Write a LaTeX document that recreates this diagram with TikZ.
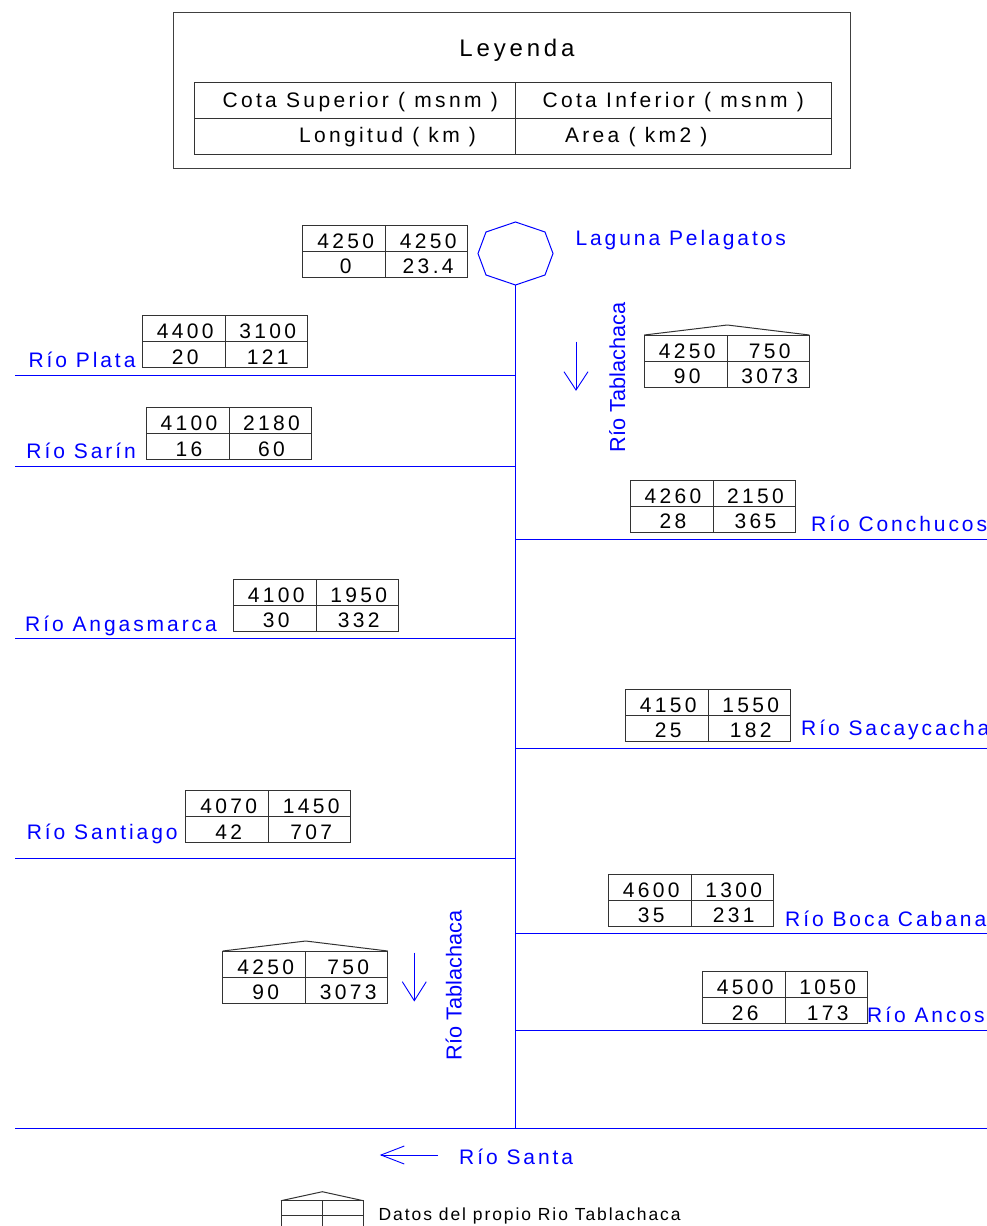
\documentclass[tikz,border=0pt]{standalone}
\usepackage{fontspec}
\setmainfont{Liberation Sans}
\newfontfamily\lsfam[LetterSpace=14]{Liberation Sans}
\newfontfamily\numfam[LetterSpace=16]{Liberation Sans}
\newfontfamily\legfam[LetterSpace=16]{Liberation Sans}
\newfontfamily\dsfam[LetterSpace=11]{Liberation Sans}
\newfontfamily\plainfam{Liberation Sans}
\newcommand\mfont{\lsfam\fontsize{21}{24}\selectfont}
\tikzset{
  lbl/.style={font=\mfont, text=blue, anchor=base west, inner sep=0pt, outer sep=0pt},
  ltxt/.style={font=\legfam\fontsize{21}{24}\selectfont, text=black, anchor=base west, inner sep=0pt, outer sep=0pt},
  num/.style={font=\numfam\fontsize{21}{24}\selectfont, text=black, anchor=base, inner sep=0pt, outer sep=0pt},
  vlbl/.style={font=\plainfam\fontsize{21.7}{24}\selectfont, text=blue, rotate=90, anchor=base west, inner sep=0pt, outer sep=0pt},
  dboxst/.style={draw=black!80, line width=1pt, minimum width=165pt, minimum height=52pt, inner sep=0pt, outer sep=0pt},
  cell/.style={draw=black!80, line width=1pt},
  riv/.style={draw=blue, line width=1pt},
  flow/.style={draw=blue, line width=0.9pt},
}
\newcommand\dbox[7]{%
  \node[dboxst, anchor=north west] (#1) at (#2,-#3) {};
  \draw[cell] ([yshift=-26pt]#1.north west) -- ([yshift=-26pt]#1.north east);
  \draw[cell] ([xshift=83pt]#1.north west) -- ([xshift=83pt]#1.south west);
  \node[num] (#1a) at ([xshift=43pt,yshift=-23pt]#1.north west) {#4};
  \node[num] (#1b) at ([xshift=125.5pt,yshift=-23pt]#1.north west) {#5};
  \node[num] (#1c) at ([xshift=43pt,yshift=-48.5pt]#1.north west) {#6};
  \node[num] (#1d) at ([xshift=125.5pt,yshift=-48.5pt]#1.north west) {#7};
}
\newcommand\roofon[1]{%
  \draw[cell] (#1.north west) -- ([xshift=83pt,yshift=10pt]#1.north west) -- (#1.north east);
}
\begin{document}
\begin{tikzpicture}[x=1pt,y=1pt]
\useasboundingbox (0,0) rectangle (987,-1226);

% ---------- Legend ----------
\node[draw=black!75, line width=1pt, minimum width=677pt, minimum height=156pt, inner sep=0pt, outer sep=0pt, anchor=north west] (legbox) at (173,-12) {};
\node[font=\legfam\fontsize{24}{28}\selectfont, anchor=base, inner sep=0pt] (legtitle) at (517,-56) {Leyenda};
\node[draw=black!80, line width=1pt, minimum width=637pt, minimum height=72pt, inner sep=0pt, outer sep=0pt, anchor=north west] (legtab) at (194,-82) {};
\draw[cell] (194,-118) -- (831,-118);
\draw[cell] (515,-82) -- (515,-154);
\node[ltxt] (legA) at (222.5,-107.5) {Cota Superior ( msnm )};
\node[ltxt] (legB) at (542.5,-107.5) {Cota Inferior ( msnm )};
\node[ltxt] (legC) at (299,-142) {Longitud ( km )};
\node[ltxt] (legD) at (565,-142) {Area ( km2 )};

% ---------- Laguna ----------
\draw[riv] (515.5,-222) -- (545,-232) -- (553,-253.5) -- (545,-275) -- (515.5,-285) -- (486,-275) -- (478,-253.5) -- (486,-232) -- cycle;
\coordinate (lagbot) at (515.5,-285);
\node[lbl] (laglbl) at (575.5,-245.5) {Laguna Pelagatos};
\dbox{bLag}{302.7}{225}{4250}{4250}{0}{23.4}

% ---------- junctions ----------
\coordinate (jPlata) at (515.5,-375.3);
\coordinate (jSarin) at (515.5,-466);
\coordinate (jConch) at (515.5,-539.3);
\coordinate (jAng) at (515.5,-638.3);
\coordinate (jSac) at (515.5,-748.3);
\coordinate (jSant) at (515.5,-858.7);
\coordinate (jBoca) at (515.5,-933.3);
\coordinate (jAncos) at (515.5,-1030);
\coordinate (jSanta) at (515.5,-1128.3);

\coordinate (ePlata) at (15,-375.3);
\coordinate (eSarin) at (15,-466);
\coordinate (eConch) at (987,-539.3);
\coordinate (eAng) at (15,-638.3);
\coordinate (eSac) at (987,-748.3);
\coordinate (eSant) at (15,-858.7);
\coordinate (eBoca) at (987,-933.3);
\coordinate (eAncos) at (987,-1030);
\coordinate (eSantaW) at (15,-1128.3);
\coordinate (eSantaE) at (987,-1128.3);

\draw[riv] (lagbot) -- (jSanta);
\draw[riv] (jPlata) -- (ePlata);
\draw[riv] (jSarin) -- (eSarin);
\draw[riv] (jConch) -- (eConch);
\draw[riv] (jAng) -- (eAng);
\draw[riv] (jSac) -- (eSac);
\draw[riv] (jSant) -- (eSant);
\draw[riv] (jBoca) -- (eBoca);
\draw[riv] (jAncos) -- (eAncos);
\draw[riv] (eSantaW) -- (eSantaE);

% ---------- Tablachaca (top) ----------
\dbox{bTab1}{644.3}{335}{4250}{750}{90}{3073}
\roofon{bTab1}
\draw[flow] (576,-341.7) -- (576,-390);
\draw[flow] (564,-371.7) -- (576,-390) -- (588,-371.7);
\node[vlbl] (tab1lbl) at (625,-452) {Río Tablachaca};

% ---------- tributaries ----------
\dbox{bPlata}{142.3}{315.7}{4400}{3100}{20}{121}
\node[lbl] (lPlata) at (28.5,-367) {Río Plata};

\dbox{bSarin}{146}{407.7}{4100}{2180}{16}{60}
\node[lbl] (lSarin) at (26.5,-458) {Río Sarín};

\dbox{bConch}{630}{480}{4260}{2150}{28}{365}
\node[lbl] (lConch) at (811.2,-531) {Río Conchucos};

\dbox{bAng}{233.3}{579.3}{4100}{1950}{30}{332}
\node[lbl] (lAng) at (25.2,-631) {Río Angasmarca};

\dbox{bSac}{625.3}{689.3}{4150}{1550}{25}{182}
\node[lbl] (lSac) at (801.2,-735.5) {Río Sacaycacha};

\dbox{bSant}{185.7}{790.7}{4070}{1450}{42}{707}
\node[lbl] (lSant) at (26.8,-839.5) {Río Santiago};

\dbox{bBoca}{608.3}{874.3}{4600}{1300}{35}{231}
\node[lbl] (lBoca) at (785.2,-926) {Río Boca Cabana};

\dbox{bAncos}{702.3}{971.7}{4500}{1050}{26}{173}
\node[lbl] (lAncos) at (867.2,-1022.5) {Río Ancos};

% ---------- Tablachaca (bottom) ----------
\dbox{bTab2}{222.7}{951}{4250}{750}{90}{3073}
\roofon{bTab2}
\draw[flow] (414.3,-952.7) -- (414.3,-1000.7);
\draw[flow] (402.3,-981.7) -- (414.3,-1000.7) -- (426.3,-981.7);
\node[vlbl] (tab2lbl) at (461.5,-1060) {Río Tablachaca};

% ---------- Río Santa ----------
\draw[flow] (438,-1155) -- (381,-1155);
\draw[flow] (404.3,-1146) -- (381,-1155) -- (404.3,-1164);
\node[lbl] (lSanta) at (459.2,-1164.5) {Río Santa};

% ---------- bottom legend symbol ----------
\draw[cell] (281,-1232) -- (281,-1200.7) -- (363.3,-1200.7) -- (363.3,-1232);
\draw[cell] (281,-1200.7) -- (322.3,-1191.7) -- (363.3,-1200.7);
\draw[cell] (281,-1215) -- (363.3,-1215);
\draw[cell] (322.3,-1200.7) -- (322.3,-1232);
\node[font=\dsfam\fontsize{17.5}{20}\selectfont, anchor=base west, inner sep=0pt] (datos) at (378.5,-1220) {Datos del propio Rio Tablachaca};
\end{tikzpicture}
\end{document}
